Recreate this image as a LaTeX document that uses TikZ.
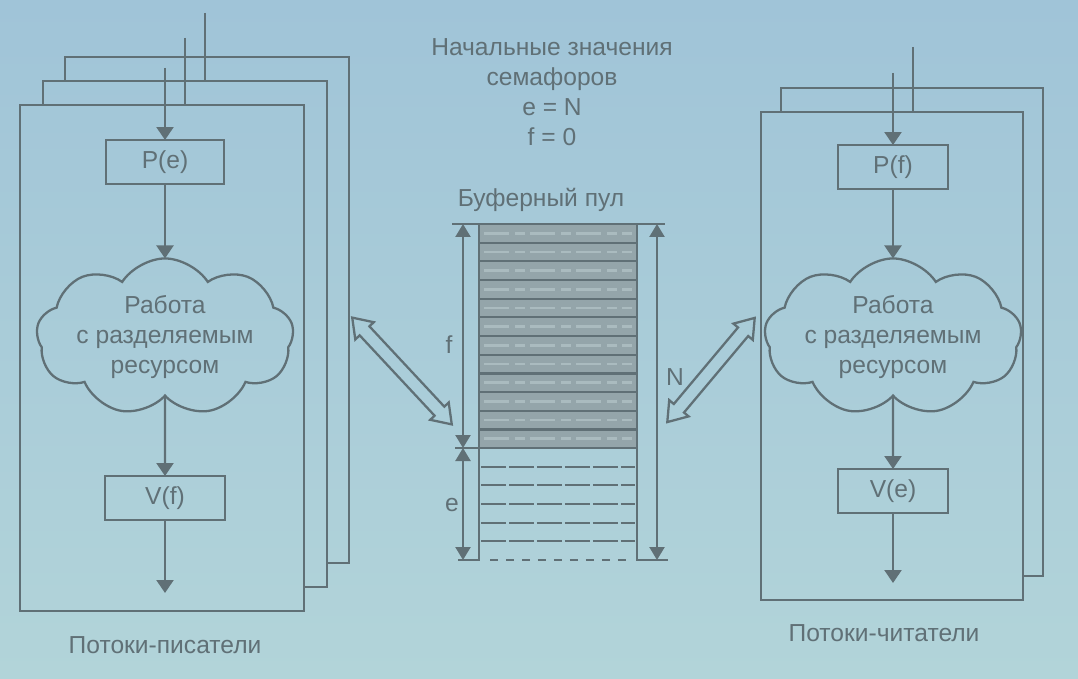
\documentclass[tikz,border=0pt]{standalone}
\usepackage{fontspec}
\setmainfont{Liberation Sans}
\usetikzlibrary{arrows.meta,shapes.symbols,shapes.arrows}
\definecolor{ink}{RGB}{96,112,118}
\definecolor{bgtop}{RGB}{160,196,216}
\definecolor{bgbot}{RGB}{178,212,217}
\definecolor{slot}{RGB}{148,165,170}
\definecolor{slotlight}{RGB}{170,187,191}

\begin{document}
\begin{tikzpicture}[x=0.02cm, y=-0.02cm, line width=1.3pt, color=ink,
	font=\fontsize{14}{17}\selectfont,
	>={Triangle[width=0.34cm,length=0.26cm]},
	op/.style={draw, inner sep=0pt, outer sep=0pt, minimum height=0.88cm},
	job/.style={cloud, draw, cloud puffs=9, cloud puff arc=115, cloud ignores aspect, align=center, inner sep=0pt, outer sep=0pt},
	wframe/.style={inner sep=0pt, outer sep=0pt, minimum width=5.68cm, minimum height=10.12cm},
	rframe/.style={inner sep=0pt, outer sep=0pt, minimum width=5.24cm, minimum height=9.76cm},
	fat/.style={double arrow, draw, inner sep=0.11cm, double arrow head extend=0.12cm, double arrow tip angle=70},
	dim/.style={{Triangle[width=0.3cm,length=0.26cm]}-{Triangle[width=0.3cm,length=0.26cm]}}]

	\useasboundingbox (0,0) rectangle (1078,679);
	\fill[top color=bgtop, bottom color=bgbot] (0,0) rectangle (1078,679);

	% writers
	\node[wframe] (wr3) at (207,310) {};
	\node[wframe] (wr2) at (185,334) {};
	\node[wframe, draw] (wr1) at (162,358) {};
	\draw (wr3.west |- wr2.north) -- (wr3.north west) -- (wr3.north east) -- (wr3.south east) -- (wr3.south -| wr2.east);
	\draw (wr2.west |- wr1.north) -- (wr2.north west) -- (wr2.north east) -- (wr2.south east) -- (wr2.south -| wr1.east);

	\coordinate (win3) at (205,13);
	\coordinate (win2) at (185,38);
	\coordinate (win1) at (165,68);
	\coordinate (wout) at (165,593);

	\node[op, minimum width=2.36cm] (pe) at (165,162) {P(e)};
	\node[job, minimum width=5cm, minimum height=3.04cm] (wjob) at (165,337) {Работа\\с разделяемым\\ресурсом};
	\node[op, minimum width=2.4cm] (vf) at (165,498) {V(f)};
	\node (wname) at (165,645) {Потоки-писатели};

	\draw (win3) -- (win3 |- wr2.north);
	\draw (win2) -- (win2 |- wr1.north);
	\path [->] (win1) edge (pe);
	\path [->] (pe) edge (wjob);
	\path [->] (wjob) edge (vf);
	\path [->] (vf) edge (wout);

	% readers
	\node[rframe] (rd2) at (912,332) {};
	\node[rframe, draw] (rd1) at (892,356) {};
	\draw (rd2.west |- rd1.north) -- (rd2.north west) -- (rd2.north east) -- (rd2.south east) -- (rd2.south -| rd1.east);

	\coordinate (rin2) at (913,47);
	\coordinate (rin1) at (893,73);
	\coordinate (rout) at (893,583);

	\node[op, minimum width=2.2cm] (pf) at (893,167) {P(f)};
	\node[job, minimum width=4.56cm, minimum height=3cm] (rjob) at (893,337) {Работа\\с разделяемым\\ресурсом};
	\node[op, minimum width=2.2cm] (ve) at (893,491) {V(e)};
	\node (rname) at (884,633) {Потоки-читатели};

	\draw (rin2) -- (rin2 |- rd1.north);
	\path [->] (rin1) edge (pf);
	\path [->] (pf) edge (rjob);
	\path [->] (rjob) edge (ve);
	\path [->] (ve) edge (rout);

	% buffer pool
	\node[align=center] (init) at (552,92) {Начальные значения\\семафоров\\e = N\\f = 0};
	\node (pool) at (541,200) {Буферный пул};

	\fill[slot] (480,225) rectangle (636,448);
	\foreach \k in {0,...,11}
		\draw[slotlight, line width=1.5pt, dash pattern=on 0.5cm off 0.12cm on 0.2cm off 0.1cm] (484,{233.3+18.67*\k}) -- (632,{233.3+18.67*\k});
	\foreach \k in {1,...,11}
		\draw (479,{224+18.67*\k}) -- (637,{224+18.67*\k});
	\foreach \k in {1,...,5}
		\draw[dash pattern=on 0.5cm off 0.06cm] (481,{448+18.67*\k}) -- (635,{448+18.67*\k});
	\draw (455,448) -- (637,448);
	\draw[dash pattern=on 0.16cm off 0.16cm] (490,560) -- (628,560);
	\draw (452,224) -- (665,224);
	\draw (458,560) -- (479,560) -- (479,224);
	\draw (637,224) -- (637,560) -- (668,560);

	\coordinate (ftop) at (463,224);
	\coordinate (fbot) at (463,448);
	\coordinate (ebot) at (463,560);
	\coordinate (ntop) at (657,224);
	\coordinate (nbot) at (657,560);
	\draw[dim] (ftop) -- (fbot);
	\draw[dim] (fbot) -- (ebot);
	\draw[dim] (ntop) -- (nbot);

	\node (flab) at (449,345) {f};
	\node (elab) at (452,505) {e};
	\node (nlab) at (675,377) {N};

	\node[fat, minimum height=2.92cm, rotate=-47] (wlink) at (402,371) {};
	\node[fat, minimum height=2.72cm, rotate=50] (rlink) at (711,370) {};

\end{tikzpicture}
\end{document}
